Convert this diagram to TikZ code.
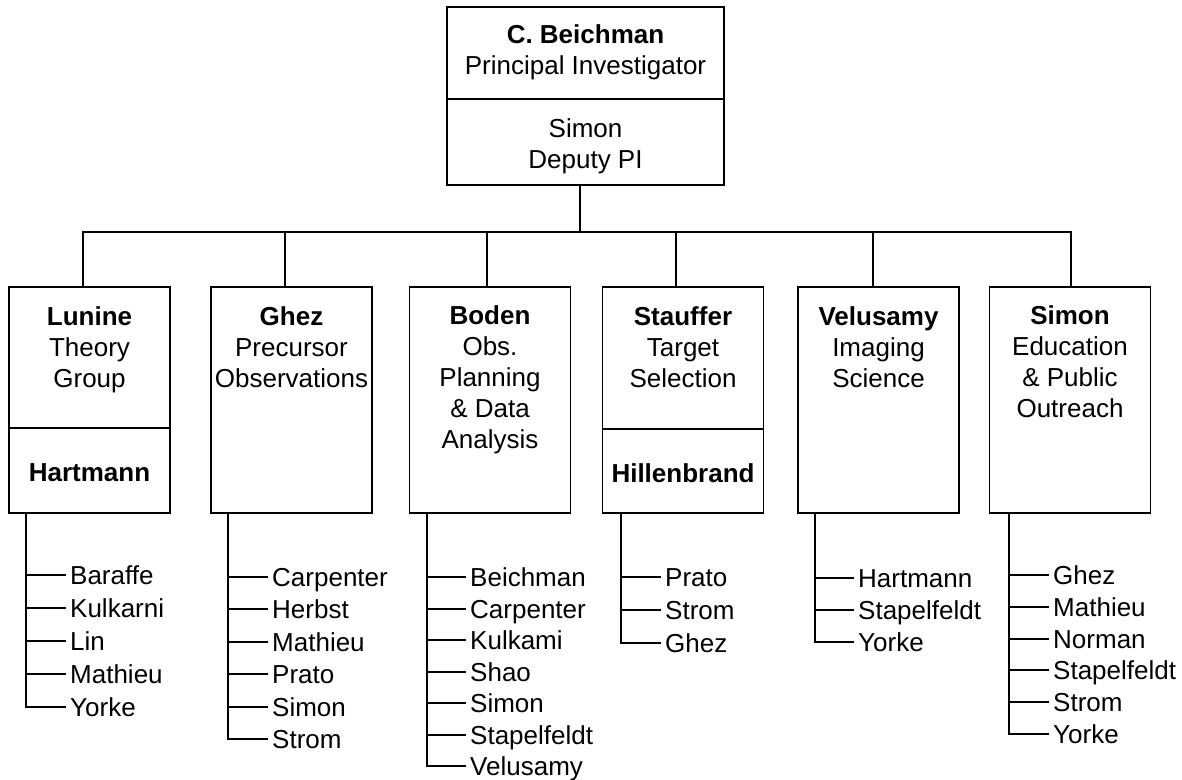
\documentclass[tikz,border=0pt]{standalone}
\usepackage{fontspec}
\setmainfont{Liberation Sans}
\usetikzlibrary{calc}
\tikzset{
  line/.style={line width=1.6pt, line cap=rect},
  divider/.style={line width=1.6pt, line cap=butt},
  box/.style={draw, line width=1.8pt, minimum width=161pt, minimum height=226pt, inner sep=0pt},
  topbox/.style={draw, line width=1.8pt, minimum width=277pt, minimum height=178pt, inner sep=0pt},
  label/.style={align=center, inner sep=0pt, font=\fontsize{26pt}{31pt}\selectfont},
  member/.style={anchor=west, inner xsep=5pt, inner ysep=0pt, text height=18.6pt, text depth=0pt, font=\fontsize{26pt}{31pt}\selectfont}
}
\newcommand\memberlist[6]{%
  \coordinate (#1s) at (#2,0);
  \foreach \n [count=\i] in {#6} {
    \node[member] (#1m\i) at (#3,{round(#4+#5*(\i-1))}) {\n};
    \draw[line] (#1s |- #1m\i.west) -- (#1m\i.west);
    \xdef\lastmember{\i}
  }
  \draw[line] (#1.south -| #1s) -- (#1s |- #1m\lastmember.west);
}
\begin{document}
\begin{tikzpicture}[x=1pt,y=-1pt]
\useasboundingbox (0,0) rectangle (1182,779);
% top box
\node[topbox] (pi) at (585.5,96) {};
\draw[divider] (pi.west |- 0,99) -- (pi.east |- 0,99);
\node[label] (pit) at (585.5,52) {\textbf{C. Beichman}\\Principal Investigator};
\node[label] (dpi) at (585.5,146) {Simon\\Deputy PI};
% group boxes
\node[box] (b1) at (89.5,400) {};
\node[box] (b2) at (291.5,400) {};
\node[box] (b3) at (490,400) {};
\node[box] (b4) at (683,400) {};
\node[box] (b5) at (878.5,400) {};
\node[box] (b6) at (1070,400) {};
\draw[divider] (b1.west |- 0,428) -- (b1.east |- 0,428);
\draw[divider] (b4.west |- 0,429) -- (b4.east |- 0,429);
\node[label] (t1) at (89.5,349.5) {\textbf{Lunine}\\Theory\\Group};
\node[label] (h1) at (89.5,473) {\textbf{Hartmann}};
\node[label] (t2) at (291.5,347) {\textbf{Ghez}\\Precursor\\Observations};
\node[label] (t3) at (490,379.5) {\textbf{Boden}\\Obs.\\Planning\\\& Data\\Analysis};
\node[label] (t4) at (683,347) {\textbf{Stauffer}\\Target\\Selection};
\node[label] (h4) at (683,473) {\textbf{Hillenbrand}};
\node[label] (t5) at (878.5,347) {\textbf{Velusamy}\\Imaging\\Science};
\node[label] (t6) at (1070,362) {\textbf{Simon}\\Education\\\& Public\\Outreach};
% bus
\coordinate (bus) at (580,232);
\coordinate (c1) at (83,232);
\coordinate (c2) at (285,232);
\coordinate (c3) at (487,232);
\coordinate (c4) at (676,232);
\coordinate (c5) at (873,232);
\coordinate (c6) at (1071,232);
\draw[line] (pi.south -| bus) -- (bus);
\draw[line] (c1) -- (c6);
\foreach \k in {1,...,6} { \draw[line] (c\k) -- (c\k |- b\k.north); }
% member lists
\memberlist{b1}{26}{65}{575}{33}{Baraffe,Kulkarni,Lin,Mathieu,Yorke}
\memberlist{b2}{228}{267}{577}{32.4}{Carpenter,Herbst,Mathieu,Prato,Simon,Strom}
\memberlist{b3}{427}{465}{577}{31.5}{Beichman,Carpenter,Kulkami,Shao,Simon,Stapelfeldt,Velusamy}
\memberlist{b4}{621}{660}{577}{33}{Prato,Strom,Ghez}
\memberlist{b5}{815}{853}{578}{32}{Hartmann,Stapelfeldt,Yorke}
\memberlist{b6}{1009}{1048}{575}{31.8}{Ghez,Mathieu,Norman,Stapelfeldt,Strom,Yorke}
\end{tikzpicture}
\end{document}
